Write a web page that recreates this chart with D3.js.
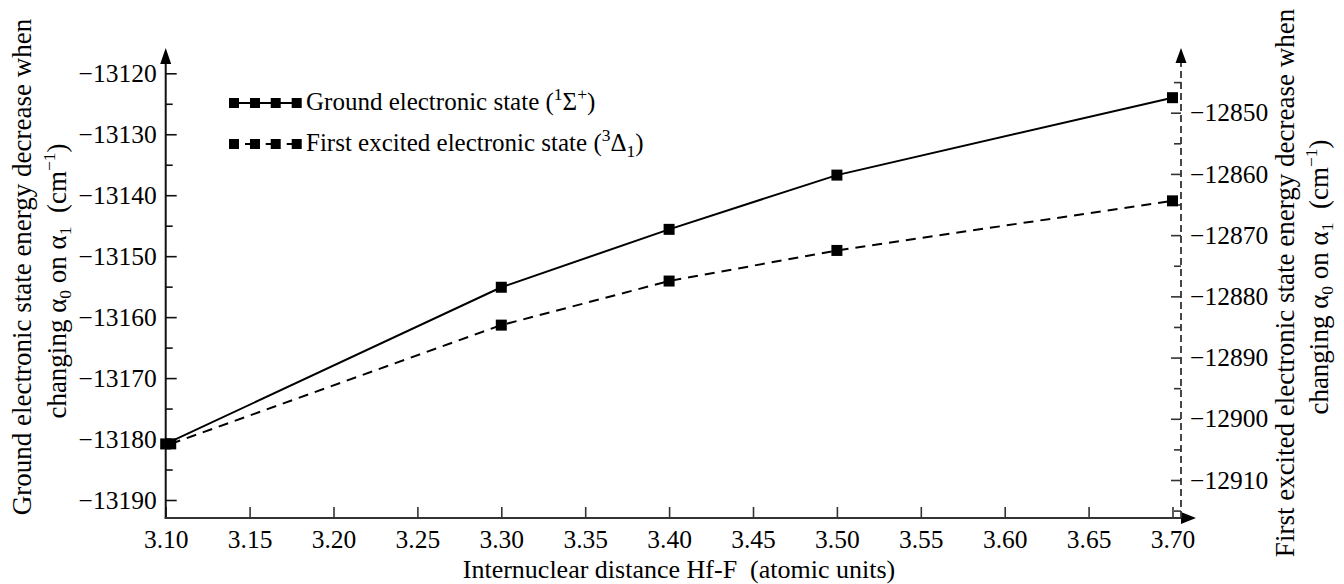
<!DOCTYPE html>
<html><head><meta charset="utf-8">
<script src="https://cdn.jsdelivr.net/npm/d3@7"></script>
<style>
body{margin:0;background:#fff;}
svg{display:block;background:#fff;}
svg text{font-family:"Liberation Serif","Times New Roman",serif !important;fill:#000;}
</style></head><body>
<svg id="c" width="1344" height="584"></svg>
<script>
// ---- data ----
const distances = [3.10, 3.30, 3.40, 3.50, 3.70];
const excitedDistances = [3.103, 3.30, 3.40, 3.50, 3.70];
const groundEnergy = [-13180.8, -13155.1, -13145.6, -13136.7, -13124.0];
const excitedEnergy = [-12904.1, -12884.7, -12877.5, -12872.5, -12864.4];
const xTicks = [3.10, 3.15, 3.20, 3.25, 3.30, 3.35, 3.40, 3.45, 3.50, 3.55, 3.60, 3.65, 3.70];
const leftTicks = [-13190, -13180, -13170, -13160, -13150, -13140, -13130, -13120];
const leftMinor = [-13185, -13175, -13165, -13155, -13145, -13135, -13125];
const rightTicks = [-12910, -12900, -12890, -12880, -12870, -12860, -12850];
const rightMinor = [-12915, -12905, -12895, -12885, -12875, -12865, -12855, -12845];

const SERIF = '"Liberation Serif","Times New Roman",serif';
const svg = d3.select('#c');
const X0 = 165.7, X1 = 1172.5, XR = 1181, YB = 518;
const x = d3.scaleLinear().domain([3.10, 3.70]).range([X0, X1]);
const yL = d3.scaleLinear().domain([-13190, -13120]).range([500, 73.3]);
const yR = d3.scaleLinear().domain([-12910, -12850]).range([480, 112.7]);

const FS = 25.5;
function styleText(g) {
  g.attr('font-family', SERIF);
  g.selectAll('text').attr('font-size', FS).style('font-family', SERIF).attr('fill', '#000');
}

// ---- bottom axis ----
const gx = svg.append('g').attr('transform', `translate(0,${YB})`)
  .call(d3.axisBottom(x).tickValues(xTicks).tickSize(-11).tickPadding(12).tickFormat(d3.format('.2f')));
gx.select('.domain').remove();
gx.selectAll('line').attr('stroke', '#333').attr('stroke-width', 1.6);
styleText(gx);

// ---- left axis ----
const gl = svg.append('g').attr('transform', `translate(${X0},0)`)
  .call(d3.axisLeft(yL).tickValues(leftTicks).tickSize(-11).tickPadding(9).tickFormat(d3.format('d')));
gl.select('.domain').remove();
gl.selectAll('line').attr('stroke', '#111').attr('stroke-width', 1.6);
styleText(gl);
const glm = svg.append('g').attr('transform', `translate(${X0},0)`)
  .call(d3.axisLeft(yL).tickValues(leftMinor).tickSize(-7).tickFormat(''));
glm.select('.domain').remove();
glm.selectAll('line').attr('stroke', '#111').attr('stroke-width', 1.6);

// ---- right axis ----
const gr = svg.append('g').attr('transform', `translate(${XR},0)`)
  .call(d3.axisRight(yR).tickValues(rightTicks).tickSize(-10).tickPadding(9).tickFormat(d3.format('d')));
gr.select('.domain').remove();
gr.selectAll('line').attr('stroke', '#333').attr('stroke-width', 1.6);
styleText(gr);
const grm = svg.append('g').attr('transform', `translate(${XR},0)`)
  .call(d3.axisRight(yR).tickValues(rightMinor).tickSize(-7).tickFormat(''));
grm.select('.domain').remove();
grm.selectAll('line').attr('stroke', '#333').attr('stroke-width', 1.6);

// axis lines + arrows
svg.append('line').attr('x1', X0).attr('x2', X0).attr('y1', YB + 1).attr('y2', 60)
  .attr('stroke', '#111').attr('stroke-width', 2);
svg.append('path').attr('d', `M${X0},48 L${X0 - 5.5},64 L${X0 + 5.5},64 Z`).attr('fill', '#000');
svg.append('line').attr('x1', X0 - 1).attr('x2', XR + 2).attr('y1', YB).attr('y2', YB)
  .attr('stroke', '#333').attr('stroke-width', 2.2);
svg.append('path').attr('d', `M1196,${YB} L${XR},${YB - 6} L${XR},${YB + 6} Z`).attr('fill', '#000');
svg.append('line').attr('x1', XR).attr('x2', XR).attr('y1', YB).attr('y2', 62)
  .attr('stroke', '#333').attr('stroke-width', 1.8).attr('stroke-dasharray', '7,4');
svg.append('path').attr('d', `M${XR},48 L${XR - 5.5},63 L${XR + 5.5},63 Z`).attr('fill', '#000');

// ---- series ----
const groundPts = distances.map((d, i) => [x(d), yL(groundEnergy[i])]);
const excitedPts = excitedDistances.map((d, i) => [x(d), yR(excitedEnergy[i])]);
const line = d3.line();
svg.append('path').attr('d', line(excitedPts)).attr('fill', 'none').attr('stroke', '#000')
  .attr('stroke-width', 2).attr('stroke-dasharray', '10,7');
svg.append('path').attr('d', line(groundPts)).attr('fill', 'none').attr('stroke', '#000')
  .attr('stroke-width', 2);
const S = 11;
svg.append('g').selectAll('rect').data(excitedPts).join('rect')
  .attr('x', d => d[0] - S / 2).attr('y', d => d[1] - S / 2).attr('width', S).attr('height', S).attr('fill', '#000');
svg.append('g').selectAll('rect').data(groundPts).join('rect')
  .attr('x', d => d[0] - S / 2).attr('y', d => d[1] - S / 2).attr('width', S).attr('height', S).attr('fill', '#000');

// ---- legend ----
const legendMarkX = [234, 255, 275.7, 296.7];
const LS = 10;
function legendRow(y, dashed) {
  if (!dashed) {
    svg.append('line').attr('x1', legendMarkX[0]).attr('x2', legendMarkX[3]).attr('y1', y).attr('y2', y)
      .attr('stroke', '#000').attr('stroke-width', 2);
  } else {
    legendMarkX.slice(1).forEach(mx => svg.append('line').attr('x1', mx - 10).attr('x2', mx - 4)
      .attr('y1', y).attr('y2', y).attr('stroke', '#000').attr('stroke-width', 2));
  }
  legendMarkX.forEach(mx => svg.append('rect').attr('x', mx - LS / 2).attr('y', y - LS / 2)
    .attr('width', LS).attr('height', LS).attr('fill', '#000'));
}
legendRow(103, false);
legendRow(144, true);
const LFS = 25;
const t1 = svg.append('text').attr('x', 306).attr('y', 110).attr('font-size', LFS);
t1.append('tspan').text('Ground electronic state (');
t1.append('tspan').attr('font-size', LFS * 0.7).attr('dy', -10).text('1');
t1.append('tspan').attr('dy', 10).text('Σ');
t1.append('tspan').attr('font-size', LFS * 0.7).attr('dy', -10).text('+');
t1.append('tspan').attr('dy', 10).text(')');
const t2 = svg.append('text').attr('x', 306).attr('y', 151).attr('font-size', LFS);
t2.append('tspan').text('First excited electronic state (');
t2.append('tspan').attr('font-size', LFS * 0.7).attr('dy', -10).text('3');
t2.append('tspan').attr('dy', 10).text('Δ');
t2.append('tspan').attr('font-size', LFS * 0.7).attr('dy', 6).text('1');
t2.append('tspan').attr('dy', -6).text(')');

// ---- titles ----
const TFS = 27;
svg.append('text').attr('x', 679).attr('y', 578).attr('text-anchor', 'middle').attr('font-size', TFS - 1)
  .style('white-space', 'pre').text('Internuclear distance Hf-F  (atomic units)');

function unitLine(g) {
  g.append('tspan').text('changing α');
  g.append('tspan').attr('font-size', TFS * 0.65).attr('dy', 5).text('0');
  g.append('tspan').attr('dy', -5).text(' on α');
  g.append('tspan').attr('font-size', TFS * 0.65).attr('dy', 5).text('1');
  g.append('tspan').attr('dy', -5).text('  (cm');
  g.append('tspan').attr('font-size', TFS * 0.65).attr('dy', -11).text('−1');
  g.append('tspan').attr('dy', 11).text(')');
}
svg.append('text').attr('transform', 'translate(31,267) rotate(-90)').attr('text-anchor', 'middle')
  .attr('font-size', TFS).text('Ground electronic state energy decrease when');
const l2 = svg.append('text').attr('transform', 'translate(66,281) rotate(-90)').attr('text-anchor', 'middle')
  .attr('font-size', TFS).style('white-space', 'pre');
unitLine(l2);
svg.append('text').attr('transform', 'translate(1294,283) rotate(-90)').attr('text-anchor', 'middle')
  .attr('font-size', TFS).text('First excited electronic state energy decrease when');
const r2 = svg.append('text').attr('transform', 'translate(1328,277) rotate(-90)').attr('text-anchor', 'middle')
  .attr('font-size', TFS).style('white-space', 'pre');
unitLine(r2);
</script>
</body></html>
